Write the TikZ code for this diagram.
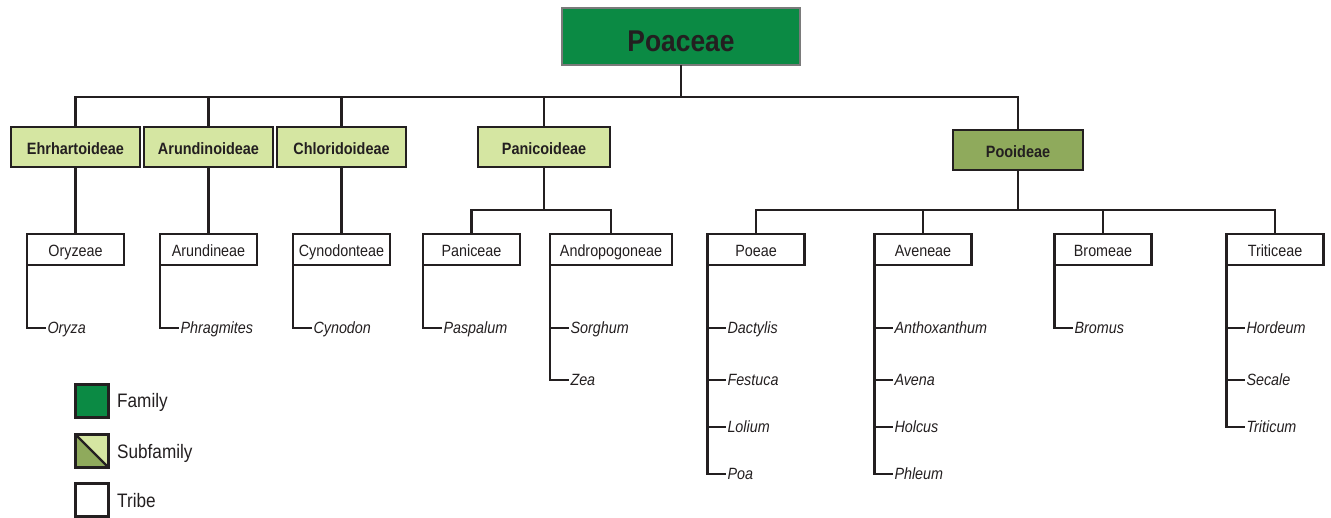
\documentclass[tikz,border=0pt]{standalone}
\usepackage{fontspec}
\setmainfont{Liberation Sans}[FakeStretch=0.88]
\definecolor{ink}{HTML}{231F20}
\definecolor{famgreen}{HTML}{0B8A44}
\definecolor{subl}{HTML}{D5E6A2}
\definecolor{subd}{HTML}{8FAA5C}
\definecolor{famborder}{HTML}{7A7A7A}
\begin{document}
\begin{tikzpicture}[x=1pt,y=-1pt,
  conn/.style={draw=ink,line width=2.6pt},
  box/.style={draw=ink,line width=2.8pt,outer sep=0pt,inner sep=0pt,text=ink,anchor=center},
  fam/.style={box,draw=famborder,line width=2.5pt,fill=famgreen,minimum width=238pt,minimum height=57pt,text height=30.5pt,text depth=0pt,font=\fontsize{30}{32}\selectfont\bfseries},
  sub/.style={box,fill=subl,minimum width=129pt,minimum height=40pt,text height=15.7pt,text depth=0pt,font=\fontsize{16.4}{18}\selectfont\bfseries},
  tribe/.style={box,fill=white,minimum width=97pt,minimum height=31pt,text height=14.7pt,text depth=0pt,font=\fontsize{16.3}{18}\selectfont},
  sp/.style={anchor=west,inner sep=1.5pt,outer sep=0pt,text=ink,text height=11.7pt,text depth=0pt,font=\fontsize{16.3}{18}\selectfont\itshape},
  legbox/.style={draw=ink,line width=2.6pt,outer sep=0pt,minimum width=33pt,minimum height=33pt,inner sep=0pt},
  leglabel/.style={anchor=west,inner sep=0pt,text=ink,text height=14pt,text depth=0pt,font=\fontsize{19.5}{22}\selectfont}
]
\useasboundingbox (0,0) rectangle (1331,518);

% Family
\node[fam] (poaceae) at (681,36.5) {Poaceae};

% Subfamilies
\node[sub] (ehr) at (75.5,147) {Ehrhartoideae};
\node[sub] (arund) at (208.5,147) {Arundinoideae};
\node[sub] (chlor) at (341.5,147) {Chloridoideae};
\node[sub,minimum width=132pt] (pan) at (544,147) {Panicoideae};
\node[sub,fill=subd,minimum width=130pt] (pooid) at (1018,150) {Pooideae};

% Tribes
\node[tribe] (oryzeae) at (75.5,249.5) {Oryzeae};
\node[tribe] (arundineae) at (208.5,249.5) {Arundineae};
\node[tribe] (cynodonteae) at (341.5,249.5) {Cynodonteae};
\node[tribe] (paniceae) at (471.5,249.5) {Paniceae};
\node[tribe,minimum width=122pt] (andro) at (611,249.5) {Andropogoneae};
\node[tribe] (poeae) at (756,249.5) {Poeae};
\node[tribe] (aveneae) at (923,249.5) {Aveneae};
\node[tribe] (bromeae) at (1103,249.5) {Bromeae};
\node[tribe] (triticeae) at (1275,249.5) {Triticeae};

% Genera
\node[sp] (oryza) at (46,328) {Oryza};
\node[sp] (phragmites) at (179,328) {Phragmites};
\node[sp] (cynodon) at (312,328) {Cynodon};
\node[sp] (paspalum) at (442,328) {Paspalum};
\node[sp] (sorghum) at (569,328) {Sorghum};
\node[sp] (zea) at (569,380) {Zea};
\node[sp] (dactylis) at (726,328) {Dactylis};
\node[sp] (festuca) at (726,380) {Festuca};
\node[sp] (lolium) at (726,427) {Lolium};
\node[sp] (poa) at (726,474) {Poa};
\node[sp] (anthox) at (893,328) {Anthoxanthum};
\node[sp] (avena) at (893,380) {Avena};
\node[sp] (holcus) at (893,427) {Holcus};
\node[sp] (phleum) at (893,474) {Phleum};
\node[sp] (bromus) at (1073,328) {Bromus};
\node[sp] (hordeum) at (1245,328) {Hordeum};
\node[sp] (secale) at (1245,380) {Secale};
\node[sp] (triticum) at (1245,427) {Triticum};

% Buses
\coordinate (bus1) at (680,97);
\coordinate (bus2) at (544,210);
\coordinate (bus3) at (1018,210);

\draw[conn] (poaceae.south) -- (poaceae.south |- bus1);
\draw[conn] (ehr.north) |- (pooid.north |- bus1) -- (pooid.north);
\foreach \n in {arund,chlor,pan} \draw[conn] (\n.north) -- (\n.north |- bus1);

\draw[conn] (ehr.south) -- (oryzeae.north);
\draw[conn] (arund.south) -- (arundineae.north);
\draw[conn] (chlor.south) -- (cynodonteae.north);

\draw[conn] (pan.south) -- (pan.south |- bus2);
\draw[conn] (paniceae.north) |- (andro.north |- bus2) -- (andro.north);

\draw[conn] (pooid.south) -- (pooid.south |- bus3);
\draw[conn] (poeae.north) |- (triticeae.north |- bus3) -- (triticeae.north);
\foreach \n in {aveneae,bromeae} \draw[conn] (\n.north) -- (\n.north |- bus3);

% Tribe to genera
\draw[conn] (oryzeae.south west) |- (oryza.west);
\draw[conn] (arundineae.south west) |- (phragmites.west);
\draw[conn] (cynodonteae.south west) |- (cynodon.west);
\draw[conn] (paniceae.south west) |- (paspalum.west);
\draw[conn] (andro.south west) |- (zea.west);
\draw[conn] (andro.south west |- sorghum.west) -- (sorghum.west);
\draw[conn] (poeae.south west) |- (poa.west);
\foreach \n in {dactylis,festuca,lolium} \draw[conn] (poeae.south west |- \n.west) -- (\n.west);
\draw[conn] (aveneae.south west) |- (phleum.west);
\foreach \n in {anthox,avena,holcus} \draw[conn] (aveneae.south west |- \n.west) -- (\n.west);
\draw[conn] (bromeae.south west) |- (bromus.west);
\draw[conn] (triticeae.south west) |- (triticum.west);
\foreach \n in {hordeum,secale} \draw[conn] (triticeae.south west |- \n.west) -- (\n.west);

% Legend
\node[legbox,fill=famgreen] (legfam) at (92,401) {};
\node[legbox,fill=subl,path picture={
  \fill[subd] (path picture bounding box.north west) -- (path picture bounding box.south west) -- (path picture bounding box.south east) -- cycle;
  \draw[ink,line width=2.2pt] (path picture bounding box.north west) -- (path picture bounding box.south east);
}] (legsub) at (92,451) {};
\node[legbox,fill=white] (legtribe) at (92,500) {};
\node[leglabel] (lfam) at (117,401) {Family};
\node[leglabel] (lsub) at (117,451) {Subfamily};
\node[leglabel] (ltribe) at (117,500) {Tribe};
\end{tikzpicture}
\end{document}
